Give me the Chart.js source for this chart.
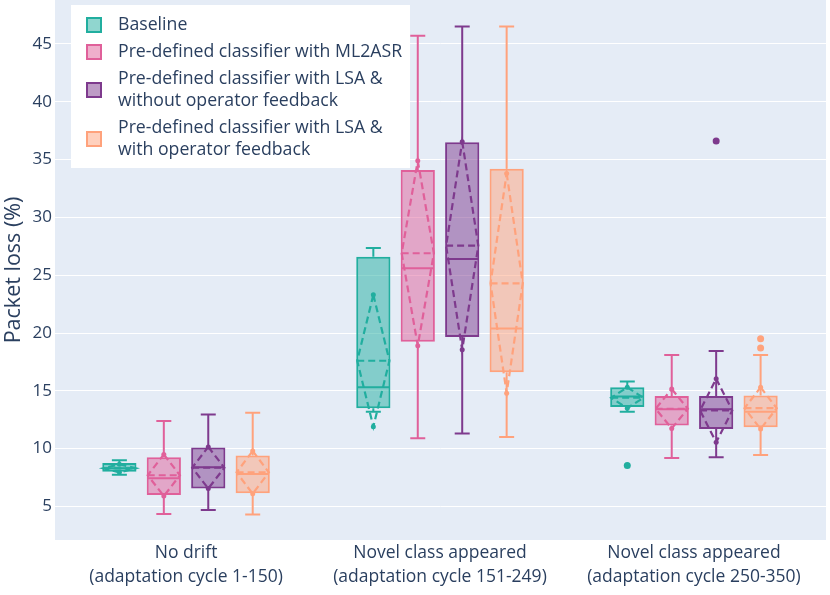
<!DOCTYPE html>
<html>
<head>
<meta charset="utf-8">
<script src="https://cdn.jsdelivr.net/npm/chart.js@4.4.0/dist/chart.umd.min.js"></script>
<style>
  body { margin: 0; background: #fff; }
  #wrap { width: 830px; height: 595px; position: relative; }
</style>
</head>
<body>
<div id="wrap"><canvas id="chart"></canvas></div>
<script>
'use strict'

// x categories (two line tick labels)
const categories = [
    ['No drift', '(adaptation cycle 1-150)'],
    ['Novel class appeared', '(adaptation cycle 151-249)'],
    ['Novel class appeared', '(adaptation cycle 250-350)']
];
const categoryIndex = [0, 1, 2];

const seriesNames = [
    ['Baseline'],
    ['Pre-defined classifier with ML2ASR'],
    ['Pre-defined classifier with LSA &', 'without operator feedback'],
    ['Pre-defined classifier with LSA &', 'with operator feedback']
];
const seriesColors = ['#21ae9f', '#e0609a', '#7e3a8d', '#ffa27c'];

// box statistics, one value per category
const baselineLower  = [7.75, 13.2, 13.2];
const baselineQ1     = [8.0, 13.5, 13.6];
const baselineMedian = [8.3, 15.3, 14.5];
const baselineQ3     = [8.75, 26.6, 15.3];
const baselineUpper  = [9.0, 27.35, 15.8];
const baselineMean   = [8.3, 17.6, 14.4];
const baselineSd     = [0.35, 5.7, 0.9];
const baselineOut    = [[], [], [8.55]];

const ml2asrLower  = [4.35, 10.9, 9.2];
const ml2asrQ1     = [6.0, 19.25, 12.0];
const ml2asrMedian = [7.45, 25.6, 13.4];
const ml2asrQ3     = [9.25, 34.1, 14.55];
const ml2asrUpper  = [12.4, 45.7, 18.1];
const ml2asrMean   = [7.7, 26.9, 13.45];
const ml2asrSd     = [1.8, 8.0, 1.7];
const ml2asrOut    = [[], [], []];

const lsaNoFbLower  = [4.7, 11.3, 9.25];
const lsaNoFbQ1     = [6.55, 19.65, 11.7];
const lsaNoFbMedian = [8.4, 26.4, 13.4];
const lsaNoFbQ3     = [10.1, 36.5, 14.55];
const lsaNoFbUpper  = [12.95, 46.5, 18.45];
const lsaNoFbMean   = [8.35, 27.55, 13.3];
const lsaNoFbSd     = [1.8, 9.0, 2.75];
const lsaNoFbOut    = [[], [], [36.6]];

const lsaFbLower  = [4.3, 11.0, 9.45];
const lsaFbQ1     = [6.15, 16.6, 11.85];
const lsaFbMedian = [7.8, 20.4, 13.2];
const lsaFbQ3     = [9.4, 34.2, 14.6];
const lsaFbUpper  = [13.1, 46.5, 18.1];
const lsaFbMean   = [7.95, 24.3, 13.5];
const lsaFbSd     = [1.85, 9.5, 1.8];
const lsaFbOut    = [[], [], [18.7, 19.5]];

const yTicks = [5, 10, 15, 20, 25, 30, 35, 40, 45];

const stats = [
    {lower: baselineLower, q1: baselineQ1, median: baselineMedian, q3: baselineQ3, upper: baselineUpper, mean: baselineMean, sd: baselineSd, out: baselineOut},
    {lower: ml2asrLower, q1: ml2asrQ1, median: ml2asrMedian, q3: ml2asrQ3, upper: ml2asrUpper, mean: ml2asrMean, sd: ml2asrSd, out: ml2asrOut},
    {lower: lsaNoFbLower, q1: lsaNoFbQ1, median: lsaNoFbMedian, q3: lsaNoFbQ3, upper: lsaNoFbUpper, mean: lsaNoFbMean, sd: lsaNoFbSd, out: lsaNoFbOut},
    {lower: lsaFbLower, q1: lsaFbQ1, median: lsaFbMedian, q3: lsaFbQ3, upper: lsaFbUpper, mean: lsaFbMean, sd: lsaFbSd, out: lsaFbOut}
];

function hexAlpha(hex, a) {
    const n = parseInt(hex.slice(1), 16);
    return 'rgba(' + (n >> 16) + ',' + ((n >> 8) & 255) + ',' + (n & 255) + ',' + a + ')';
}

const FONT = '"Open Sans", "Noto Sans", sans-serif';
const TEXT = '#2a3f5f';

const pluginBackground = {
    id: 'plotBackground',
    beforeDraw: (chart) => {
        const {ctx, chartArea: {left, top, width, height}} = chart;
        ctx.save();
        ctx.fillStyle = '#e5ecf6';
        ctx.fillRect(left, top, width, height);
        ctx.restore();
    }
};

// whiskers, median, mean / sd diamond and outliers on top of the floating bars
const pluginBoxExtras = {
    id: 'boxExtras',
    afterDatasetsDraw: (chart) => {
        const ctx = chart.ctx;
        const yScale = chart.scales.y;
        const py = v => yScale.getPixelForValue(v);
        chart.data.datasets.forEach((ds, i) => {
            const s = stats[i];
            const meta = chart.getDatasetMeta(i);
            meta.data.forEach((bar, j) => {
                const x = bar.x;
                const half = bar.width / 2 - 1;
                const cap = 7.5;
                ctx.save();
                ctx.strokeStyle = seriesColors[i];
                ctx.fillStyle = seriesColors[i];
                ctx.lineWidth = 2;
                ctx.beginPath();
                ctx.moveTo(x, py(s.q3[j])); ctx.lineTo(x, py(s.upper[j]));
                ctx.moveTo(x - cap, py(s.upper[j])); ctx.lineTo(x + cap, py(s.upper[j]));
                ctx.moveTo(x, py(s.q1[j])); ctx.lineTo(x, py(s.lower[j]));
                ctx.moveTo(x - cap, py(s.lower[j])); ctx.lineTo(x + cap, py(s.lower[j]));
                ctx.moveTo(x - half, py(s.median[j])); ctx.lineTo(x + half, py(s.median[j]));
                ctx.stroke();

                const m = s.mean[j], sd = s.sd[j];
                ctx.setLineDash([7, 4]);
                ctx.lineWidth = 2.2;
                ctx.beginPath();
                ctx.moveTo(x - half, py(m)); ctx.lineTo(x + half, py(m));
                ctx.moveTo(x, py(m + sd));
                ctx.lineTo(x + half, py(m));
                ctx.lineTo(x, py(m - sd));
                ctx.lineTo(x - half, py(m));
                ctx.closePath();
                ctx.stroke();
                ctx.setLineDash([]);
                [m + sd, m - sd].forEach(v => {
                    ctx.beginPath();
                    ctx.arc(x, py(v), 2.5, 0, Math.PI * 2);
                    ctx.fill();
                });

                s.out[j].forEach(v => {
                    ctx.beginPath();
                    ctx.arc(x, py(v), 3.5, 0, Math.PI * 2);
                    ctx.fill();
                });
                ctx.restore();
            });
        });
    }
};

// the legend box in the upper left corner
const pluginLegendBox = {
    id: 'legendBox',
    afterDraw: (chart) => {
        const ctx = chart.ctx;
        ctx.save();
        ctx.fillStyle = '#ffffff';
        ctx.fillRect(71, 5, 339, 163);
        ctx.font = '17.7px ' + FONT;
        ctx.textBaseline = 'middle';
        let y = 25;
        seriesNames.forEach((lines, i) => {
            const ys = lines.map((l, k) => y + k * 22);
            const sy = (ys[0] + ys[ys.length - 1]) / 2;
            ctx.fillStyle = hexAlpha(seriesColors[i], 0.5);
            ctx.fillRect(87, sy - 7, 14, 14);
            ctx.strokeStyle = seriesColors[i];
            ctx.lineWidth = 2;
            ctx.strokeRect(87, sy - 7, 14, 14);
            ctx.fillStyle = TEXT;
            lines.forEach((l, k) => ctx.fillText(l, 118, ys[k]));
            y = ys[ys.length - 1] + 27;
        });
        ctx.restore();
    }
};

const datasets = stats.map((s, i) => ({
    label: seriesNames[i].join(' '),
    data: categoryIndex.map(c => ({x: c, y: [s.q1[c], s.q3[c]]})),
    backgroundColor: hexAlpha(seriesColors[i], 0.5),
    borderColor: seriesColors[i],
    borderWidth: 2,
    borderSkipped: false
}));

var ctx = document.getElementById('chart');
var myChart = new Chart(ctx, {
    type: 'bar',
    data: { datasets: datasets },
    options: {
        responsive: true,
        maintainAspectRatio: false,
        animation: false,
        layout: { padding: {top: 0, right: 4, bottom: 0, left: 0} },
        categoryPercentage: 0.7,
        barPercentage: 0.77,
        scales: {
            x: {
                type: 'linear',
                offset: false,
                min: -0.516,
                max: 2.52,
                grid: { display: false, offset: false, drawTicks: false },
                border: { display: false },
                afterBuildTicks: (scale) => {
                    scale.ticks = categoryIndex.map(v => ({value: v}));
                },
                afterFit: (scale) => {
                    scale.height = 55;
                    scale.paddingLeft = 0;
                    scale.paddingRight = 0;
                },
                ticks: {
                    autoSkip: false,
                    maxRotation: 0,
                    padding: 1,
                    color: TEXT,
                    font: { family: FONT, size: 17.5, lineHeight: 1.38 },
                    callback: (value) => categories[value]
                }
            },
            y: {
                min: 2.1,
                max: 48.8,
                border: { display: false },
                grid: { color: '#ffffff', lineWidth: 1, drawTicks: false },
                afterBuildTicks: (scale) => {
                    scale.ticks = yTicks.map(v => ({value: v}));
                },
                afterFit: (scale) => {
                    scale.width = 55;
                    scale.paddingTop = 0;
                    scale.paddingBottom = 0;
                },
                ticks: {
                    padding: 3,
                    color: TEXT,
                    font: { family: FONT, size: 17 }
                },
                title: {
                    display: true,
                    text: 'Packet loss (%)',
                    color: TEXT,
                    padding: { top: 1, bottom: 0 },
                    font: { family: FONT, size: 21.5 }
                }
            }
        },
        plugins: {
            legend: { display: false },
            tooltip: { enabled: false }
        }
    },
    plugins: [pluginBackground, pluginBoxExtras, pluginLegendBox]
});
</script>
</body>
</html>
